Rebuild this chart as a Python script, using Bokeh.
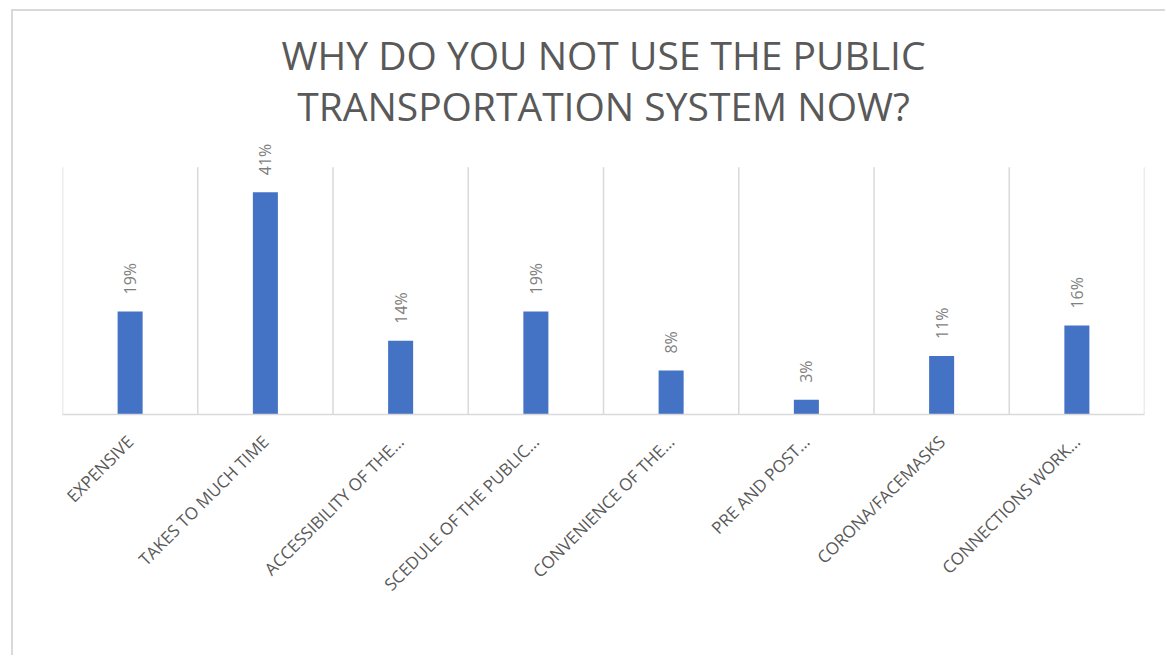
import math
from bokeh.plotting import figure
from bokeh.models import FixedTicker, Range1d, ColumnDataSource, LabelSet, Title
from bokeh.core.properties import value
from bokeh.embed import file_html
from bokeh.resources import INLINE

categories = ["EXPENSIVE", "TAKES TO MUCH TIME", "ACCESSIBILITY OF THE…",
              "SCEDULE OF THE PUBLIC…", "CONVENIENCE OF THE…", "PRE AND POST…",
              "CORONA/FACEMASKS", "CONNECTIONS WORK…"]
values = [0.19, 0.41, 0.136, 0.19, 0.081, 0.027, 0.108, 0.164]
value_labels = ["19%", "41%", "14%", "19%", "8%", "3%", "11%", "16%"]
title_lines = ["WHY DO YOU NOT USE THE PUBLIC", "TRANSPORTATION SYSTEM NOW?"]

axis_max = 0.456   # top of the value axis (grid lines end here)
view_max = 0.522   # visible range, leaves room for the value labels

n = len(categories)
xpos = [i + 0.5 for i in range(n)]
src = ColumnDataSource(dict(x=xpos, top=values, lab=value_labels))
bounds = list(range(n + 1))
grid_src = ColumnDataSource(dict(x=bounds, y0=[0] * len(bounds), y1=[axis_max] * len(bounds)))

p = figure(width=1154, height=646, output_backend="svg", toolbar_location=None,
           x_range=Range1d(0, n), y_range=Range1d(0, view_max),
           min_border_left=49, min_border_right=23, min_border_top=119,
           min_border_bottom=243, title=None)
p.styles = {"margin-left": "11px", "margin-top": "9px",
            "border-left": "2px solid #d9d9d9", "border-top": "2px solid #d9d9d9"}
p.outline_line_color = None
p.background_fill_color = "white"
p.border_fill_color = "white"

t2 = Title(text=title_lines[1], align="center", text_font="Open Sans",
           text_font_size="39px", text_font_style="normal", text_color="#595959",
           standoff=0)
t1 = Title(text=title_lines[0], align="center", text_font="Open Sans",
           text_font_size="39px", text_font_style="normal", text_color="#595959",
           standoff=-8)
spacer = Title(text=" ", text_font_size="14px", standoff=0)
p.add_layout(t2, "above")
p.add_layout(t1, "above")
p.add_layout(spacer, "above")

p.segment(x0="x", x1="x", y0="y0", y1="y1", source=grid_src,
          line_color="#d9d9d9", line_width=1.5)

p.vbar(x="x", top="top", width=0.185, bottom=0, source=src,
       fill_color="#4472c4", line_color=None)

labels = LabelSet(x="x", y="top", text="lab", source=src, angle=math.pi / 2,
                  text_align="left", text_baseline="middle", y_offset=17,
                  text_font=value("Open Sans"), text_font_size="16px",
                  text_color="#7f7f7f")
p.add_layout(labels)

p.yaxis.visible = False
p.ygrid.visible = False
p.xgrid.visible = False

ax = p.xaxis[0]
ax.ticker = FixedTicker(ticks=xpos)
ax.major_label_overrides = {x: c for x, c in zip(xpos, categories)}
ax.major_label_orientation = math.pi / 4
ax.major_tick_line_color = None
ax.minor_tick_line_color = None
ax.axis_line_color = "#d9d9d9"
ax.axis_line_width = 1.5
ax.major_label_standoff = 18
ax.major_label_text_font = "Open Sans"
ax.major_label_text_font_size = "17px"
ax.major_label_text_color = "#595959"

open("out.html", "w").write(file_html(p, INLINE))
